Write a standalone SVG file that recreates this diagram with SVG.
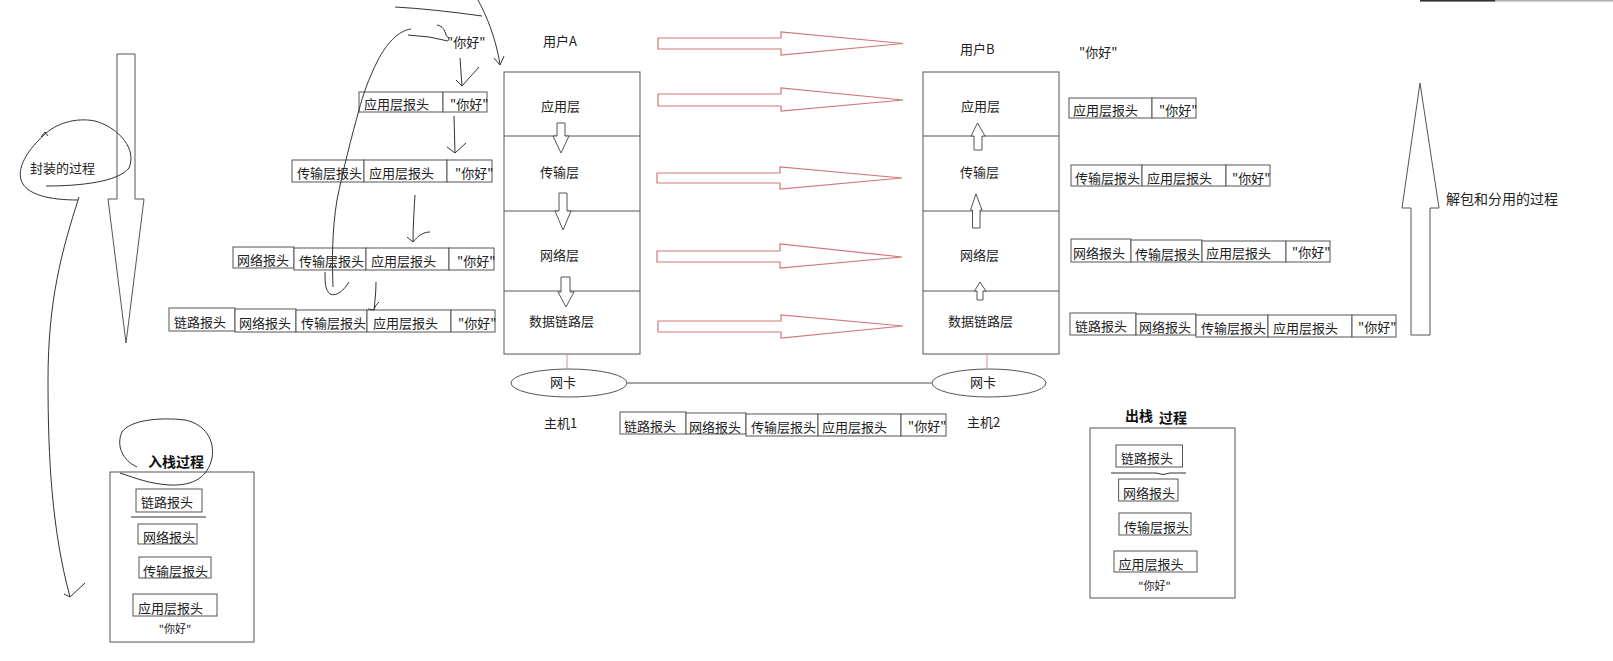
<svg xmlns="http://www.w3.org/2000/svg" width="1613" height="661" viewBox="0 0 1613 661">
<style>
.t{font-family:"Noto Sans CJK SC","Liberation Sans",sans-serif;font-size:13px;fill:#222}
.b{font-weight:bold;font-size:14px;fill:#111}
.bx{fill:#fff;stroke:#555;stroke-width:1}
.host{fill:#fff;stroke:#555;stroke-width:1}
.div{stroke:#555;stroke-width:1}
.hol{fill:#fff;stroke:#555;stroke-width:1}
.red{fill:#fff;stroke:#d27777;stroke-width:1.2}
.rl{stroke:#e08a8a;stroke-width:1}
.hand{fill:none;stroke:#333;stroke-width:1}
</style>
<rect width="1613" height="661" fill="#fff"/>
<rect x="1420" y="0" width="75" height="1.6" fill="#333"/>
<rect x="1495" y="0" width="118" height="1.6" fill="#b0b0b0"/>

<g id="encap-arrow">
<polygon class="hol" points="117,54 135,54 135,199 144,199 126,343 108,199 117,199"/>
</g>
<g id="encap-label">
<text class="t" x="30" y="173">封装的过程</text>
</g>
<g id="decap-arrow">
<polygon class="hol" points="1420,83 1439,208 1430,208 1430,335 1411,335 1411,208 1402,208"/>
<text class="t" x="1446" y="204" style="font-size:14px">解包和分用的过程</text>
</g>

<g id="hostA">
<text class="t" x="543" y="46">用户A</text>
<rect class="host" x="504" y="72" width="136" height="282"/>
<line class="div" x1="504" y1="136" x2="640" y2="136"/>
<line class="div" x1="504" y1="211" x2="640" y2="211"/>
<line class="div" x1="504" y1="291" x2="640" y2="291"/>
<text class="t" x="541" y="111">应用层</text>
<text class="t" x="540" y="177">传输层</text>
<text class="t" x="540" y="260">网络层</text>
<text class="t" x="529" y="326">数据链路层</text>
<polygon class="hol" points="557,123 565,123 565,136 569,136 561,153 553,136 557,136"/>
<polygon class="hol" points="559,193 567,193 567,211 571,211 563,230 555,211 559,211"/>
<polygon class="hol" points="561,277 570,277 570,292 574,292 566,307 558,292 561,292"/>
<text class="t" x="544" y="428">主机1</text>
</g>

<g id="hostB">
<text class="t" x="960" y="54">用户B</text>
<rect class="host" x="923" y="72" width="136" height="282"/>
<line class="div" x1="923" y1="136" x2="1059" y2="136"/>
<line class="div" x1="923" y1="211" x2="1059" y2="211"/>
<line class="div" x1="923" y1="291" x2="1059" y2="291"/>
<text class="t" x="961" y="111">应用层</text>
<text class="t" x="960" y="177">传输层</text>
<text class="t" x="960" y="260">网络层</text>
<text class="t" x="948" y="326">数据链路层</text>
<polygon class="hol" points="977.5,123 985,136 982,136 982,150 974,150 974,136 971,136"/>
<polygon class="hol" points="976,194 982,210 980,210 980,228 972.5,228 972.5,210 970.5,210"/>
<polygon class="hol" points="980,282 986,291 983,291 983,300 977,300 977,291 974.5,291"/>
<text class="t" x="967" y="427">主机2</text>
</g>

<g id="nicA">
<ellipse class="bx" cx="569" cy="383" rx="58" ry="14"/>
<text class="t" x="550" y="387">网卡</text>
</g>
<g id="nicB">
<ellipse class="bx" cx="989" cy="383" rx="57" ry="14"/>
<text class="t" x="970" y="387">网卡</text>
</g>

<g id="connectors">
<line class="rl" x1="567" y1="354" x2="567" y2="369"/>
<line class="rl" x1="987" y1="354" x2="987" y2="369"/>
<line x1="627" y1="383" x2="932" y2="383" stroke="#888" stroke-width="1.5"/>
<polygon class="red" points="658,38 781,38 781,32 903,43.5 781,55 781,49 658,49"/>
<polygon class="red" points="658,94 781,94 781,88 903,100 781,111 781,106 658,106"/>
<polygon class="red" points="657,173 780,173 780,167 902,178 780,189 780,183 657,183"/>
<polygon class="red" points="657,251 780,251 780,244 902,257 780,268 780,262 657,262"/>
<polygon class="red" points="658,321 781,321 781,315 903,326 781,338 781,332 658,332"/>
</g>

<g id="sender-stack">
<text class="t" x="447" y="47">"你好"</text>
<rect class="bx" x="359" y="92" width="84" height="20"/><text class="t" x="364" y="109">应用层报头</text>
<rect class="bx" x="443" y="92" width="44" height="20"/><text class="t" x="450" y="109">"你好"</text>

<rect class="bx" x="292" y="160" width="72" height="22"/><text class="t" x="297" y="178">传输层报头</text>
<rect class="bx" x="364" y="160" width="83" height="22"/><text class="t" x="369" y="178">应用层报头</text>
<rect class="bx" x="447" y="160" width="45" height="22"/><text class="t" x="455" y="178">"你好"</text>

<rect class="bx" x="233" y="247" width="61" height="21"/><text class="t" x="237" y="265">网络报头</text>
<rect class="bx" x="294" y="248" width="72" height="22"/><text class="t" x="299" y="266">传输层报头</text>
<rect class="bx" x="366" y="248" width="83" height="22"/><text class="t" x="371" y="266">应用层报头</text>
<rect class="bx" x="449" y="248" width="45" height="22"/><text class="t" x="457" y="266">"你好"</text>

<rect class="bx" x="169" y="308" width="66" height="23"/><text class="t" x="174" y="327">链路报头</text>
<rect class="bx" x="235" y="309" width="61" height="23"/><text class="t" x="239" y="328">网络报头</text>
<rect class="bx" x="296" y="310" width="71" height="22"/><text class="t" x="301" y="328">传输层报头</text>
<rect class="bx" x="367" y="310" width="84" height="22"/><text class="t" x="373" y="328">应用层报头</text>
<rect class="bx" x="451" y="310" width="44" height="22"/><text class="t" x="458" y="328">"你好"</text>
</g>

<g id="receiver-stack">
<text class="t" x="1079" y="57">"你好"</text>
<rect class="bx" x="1069" y="98" width="83" height="20"/><text class="t" x="1073" y="115">应用层报头</text>
<rect class="bx" x="1152" y="98" width="44" height="20"/><text class="t" x="1159" y="115">"你好"</text>

<rect class="bx" x="1071" y="165" width="71" height="21"/><text class="t" x="1075" y="183">传输层报头</text>
<rect class="bx" x="1142" y="165" width="84" height="21"/><text class="t" x="1147" y="183">应用层报头</text>
<rect class="bx" x="1226" y="165" width="44" height="21"/><text class="t" x="1232" y="183">"你好"</text>

<rect class="bx" x="1071" y="239" width="60" height="23"/><text class="t" x="1073" y="258">网络报头</text>
<rect class="bx" x="1131" y="240" width="71" height="22"/><text class="t" x="1135" y="259">传输层报头</text>
<rect class="bx" x="1202" y="241" width="84" height="21"/><text class="t" x="1206" y="258">应用层报头</text>
<rect class="bx" x="1286" y="241" width="44" height="21"/><text class="t" x="1292" y="257">"你好"</text>

<rect class="bx" x="1070" y="313" width="66" height="22"/><text class="t" x="1075" y="331">链路报头</text>
<rect class="bx" x="1136" y="314" width="60" height="21"/><text class="t" x="1139" y="332">网络报头</text>
<rect class="bx" x="1196" y="315" width="72" height="22"/><text class="t" x="1201" y="333">传输层报头</text>
<rect class="bx" x="1268" y="315" width="84" height="22"/><text class="t" x="1273" y="333">应用层报头</text>
<rect class="bx" x="1352" y="315" width="44" height="22"/><text class="t" x="1358" y="332">"你好"</text>
</g>

<g id="wire-packet">
<rect class="bx" x="620" y="412" width="66" height="22"/><text class="t" x="624" y="431">链路报头</text>
<rect class="bx" x="686" y="413" width="60" height="21"/><text class="t" x="689" y="432">网络报头</text>
<rect class="bx" x="746" y="414" width="72" height="22"/><text class="t" x="751" y="432">传输层报头</text>
<rect class="bx" x="818" y="414" width="83" height="22"/><text class="t" x="822" y="432">应用层报头</text>
<rect class="bx" x="901" y="414" width="45" height="22"/><text class="t" x="908" y="431">"你好"</text>
</g>

<g id="push-stack">
<rect class="bx" x="110" y="472" width="144" height="170"/>
<text class="t b" x="148" y="467">入栈过程</text>
<rect class="bx" x="136" y="489" width="66" height="23"/><text class="t" x="141" y="507">链路报头</text>
<line class="hand" x1="131" y1="517" x2="206" y2="517"/>
<rect class="bx" x="138" y="524" width="59" height="20"/><text class="t" x="143" y="542">网络报头</text>
<rect class="bx" x="139" y="557" width="72" height="21"/><text class="t" x="143" y="576">传输层报头</text>
<rect class="bx" x="133" y="594" width="84" height="22"/><text class="t" x="138" y="613">应用层报头</text>
<text class="t" x="175" y="633" text-anchor="middle" style="font-size:11px">"你好"</text>
</g>

<g id="pop-stack">
<rect class="bx" x="1090" y="428" width="145" height="170"/>
<text class="t b" x="1125" y="421">出栈</text>
<text class="t b" x="1159" y="423">过程</text>
<rect class="bx" x="1116" y="445" width="66.5" height="22"/><text class="t" x="1121" y="463">链路报头</text>
<path class="hand" d="M1111,473 L1156,473 Q1163,476 1170,473 L1186,473"/>
<rect class="bx" x="1118.6" y="479" width="59.4" height="22"/><text class="t" x="1123" y="498">网络报头</text>
<rect class="bx" x="1119" y="513" width="72" height="22"/><text class="t" x="1124" y="532">传输层报头</text>
<rect class="bx" x="1114" y="551" width="83" height="21"/><text class="t" x="1118.6" y="569">应用层报头</text>
<text class="t" x="1154.5" y="590" text-anchor="middle" style="font-size:11px">"你好"</text>
</g>

<g id="hand-annotations">
<path class="hand" d="M46,186 C80,186 118,182 129,168 C137,150 120,128 95,121 C75,117 55,124 44,135 C30,148 17,165 21,180 C26,195 50,200 78,200"/>
<path class="hand" d="M41,137 L45,132 L48,136"/>
<path class="hand" d="M79,197 C62,250 48,300 48,380 C48,460 52,530 70,597"/>
<path class="hand" d="M64,594 L70,597 L85,583"/>
<path class="hand" d="M137,467 C122,460 116,445 122,432 C130,420 160,417 185,420 C205,424 215,440 212,458 C208,476 195,486 170,485 C150,484 135,478 120,473"/>
<path class="hand" d="M395,7 Q432,9 482,16"/>
<path class="hand" d="M478,0 C486,15 495,35 500,64 M494,58 L500,65 L504,56"/>
<path class="hand" d="M411,29 C397,31 386,45 378,60 C368,80 363,95 359,110 C352,135 343,170 337,200 C332,230 332,260 333,287"/>
<path class="hand" d="M325,272 C325,282 325,290 330,294 C337,297 344,290 349,282"/>
<path class="hand" d="M408,35 Q430,36 448,41 M437,25 Q443,26 445,32 Q446,37 449,38"/>
<path class="hand" d="M460,58 L462,86 M456,80 L462,86 L479,67"/>
<path class="hand" d="M454,116 L455,153 M447,147 L455,153 L466,143"/>
<path class="hand" d="M415,195 C414,210 413,228 413,242 M407,237 L413,242 C418,236 423,232 430,232"/>
<path class="hand" d="M376,282 C376,292 375,300 374,310 M368,309 L374,310 C375,306 377,304 379,302"/>
</g>
</svg>
